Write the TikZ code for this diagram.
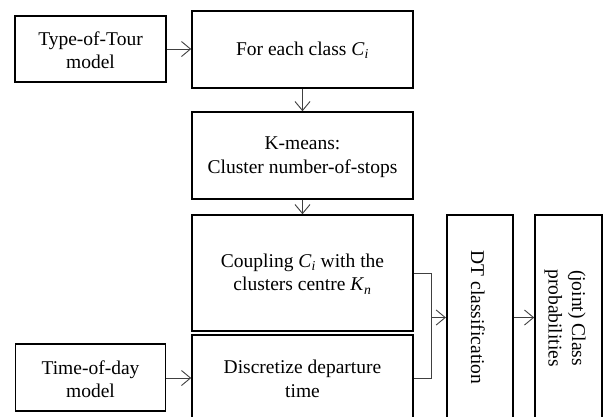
\documentclass[tikz,border=0pt]{standalone}
\usepackage{fontspec}
\setmainfont{Liberation Serif}
\usetikzlibrary{arrows.meta}
\tikzset{
  box/.style={draw=black, line width=1.6pt, inner sep=0pt, align=center, fill=white},
  conn/.style={draw=black!75, line width=0.9pt, -{Straight Barb[length=9pt,width=15pt,line width=0.9pt]}},
  plain/.style={draw=black!75, line width=0.9pt},
  lbl/.style={inner sep=0pt, align=center, font=\fontsize{19.5}{23.5}\selectfont}
}
\begin{document}
\begin{tikzpicture}[x=1pt,y=-1pt]
\useasboundingbox (0,0) rectangle (616,416);
\clip (0,0) rectangle (616,416);
\fill[white] (0,0) rectangle (616,416);
% boxes
\node[box, minimum width=151pt, minimum height=66pt] (tot) at (90.5,49) {};
\node[box, minimum width=221pt, minimum height=77pt] (fec) at (302.5,49.5) {};
\node[box, minimum width=221pt, minimum height=87pt] (km) at (302.5,155.5) {};
\node[box, minimum width=221pt, minimum height=116pt] (cpl) at (302.5,273) {};
\node[box, minimum width=221pt, minimum height=86pt] (disc) at (302.5,378) {};
\node[box, minimum width=150pt, minimum height=67pt] (tod) at (90.5,377.5) {};
\node[box, minimum width=66pt, minimum height=205pt] (dt) at (479.7,317.5) {};
\node[box, minimum width=67pt, minimum height=205pt] (jp) at (568.5,317.5) {};
% labels
\node[lbl] (totl) at (90.5,50) {Type-of-Tour\\model};
\node[lbl] (fecl) at (302.5,50) {For each class \textit{C}\textsubscript{\textit{i}}};
\node[lbl] (kml) at (302.5,157) {K-means:\\Cluster number-of-stops};
\node[lbl] (cpll) at (302.5,274) {Coupling \textit{C}\textsubscript{\textit{i}} with the\\clusters centre \textit{K}\textsubscript{\textit{n}}};
\node[lbl] (discl) at (302.5,379) {Discretize departure\\time};
\node[lbl] (todl) at (90.5,379) {Time-of-day\\model};
\node[lbl, rotate=-90] (dtl) at (478,317.5) {DT classification};
\node[lbl, rotate=-90] (jpl) at (565,318) {(joint) Class\\probabilities};
% connectors
\coordinate (j) at (431.7,317.5);
\draw[conn] (tot.east |- 0,49) -- (fec.west |- 0,49);
\draw[conn] (fec.south) -- (km.north);
\draw[conn] (km.south) -- (cpl.north);
\draw[conn] (tod.east |- 0,378) -- (disc.west);
\draw[plain] (cpl.east) -| (j) |- (disc.east);
\draw[conn] (j) -- (dt.west);
\draw[conn] (dt.east) -- (jp.west);
\end{tikzpicture}
\end{document}
